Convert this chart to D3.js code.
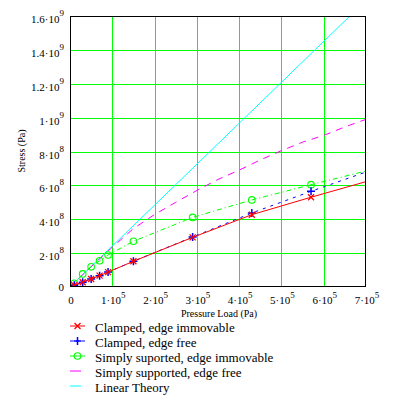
<!DOCTYPE html>
<html>
<head>
<meta charset="utf-8">
<script src="https://cdn.jsdelivr.net/npm/d3@7"></script>
<style>
  body { margin: 0; background: #fff; }
  text { font-family: "Liberation Serif", "DejaVu Serif", serif; fill: #000; }
</style>
</head>
<body>
<div id="chart"></div>
<script>
// pressure load (Pa) at which each trace was sampled
const loads = [0, 1e4, 3e4, 5e4, 7e4, 9e4, 1.5e5, 2.9e5, 4.3e5, 5.7e5, 7e5];
const clampedImmovable = [0, 1.0e7, 2.8e7, 4.7e7, 6.7e7, 8.8e7, 1.52e8, 2.93e8, 4.27e8, 5.30e8, 6.22e8];
const clampedFree = [0, 1.0e7, 2.8e7, 4.7e7, 6.7e7, 8.8e7, 1.52e8, 2.95e8, 4.37e8, 5.65e8, 6.79e8];
const simplyImmovable = [0, 2.2e7, 7.7e7, 1.19e8, 1.55e8, 1.89e8, 2.70e8, 4.11e8, 5.14e8, 6.04e8, 6.85e8];

// simply supported, edge free: smooth curve, no symbols
const freeLoads = [0, 0.5e5, 1e5, 1.5e5, 2e5, 2.5e5, 3e5, 3.5e5, 4e5, 4.5e5, 5e5, 5.5e5, 6e5, 6.5e5, 7e5];
const simplyFree = [0, 1.2e8, 2.35e8, 3.45e8, 4.28e8, 5.0e8, 5.7e8, 6.35e8, 6.9e8, 7.5e8, 8.05e8, 8.55e8, 8.95e8, 9.45e8, 9.9e8];

const linearLoads = [0, 7e5];
const linearTheory = [0, 1.692e9];

const xTicks = [0, 1e5, 2e5, 3e5, 4e5, 5e5, 6e5, 7e5];
const xTickBase = ["0", "1·10", "2·10", "3·10", "4·10", "5·10", "6·10", "7·10"];
const xTickExp = ["", "5", "5", "5", "5", "5", "5", "5"];
const yTicks = [0, 2e8, 4e8, 6e8, 8e8, 1e9, 1.2e9, 1.4e9, 1.6e9];
const yTickBase = ["0", "2·10", "4·10", "6·10", "8·10", "1·10", "1.2·10", "1.4·10", "1.6·10"];
const yTickExp = ["", "8", "8", "8", "8", "9", "9", "9", "9"];

const legendNames = ["Clamped, edge immovable", "Clamped, edge free", "Simply suported, edge immovable", "Simply supported, edge free", "Linear Theory"];

const W = 396, H = 401;
const svg = d3.select('#chart').append('svg').attr('width', W).attr('height', H);

const x = d3.scaleLinear().domain([0, 7e5]).range([70, 366]);
const y = d3.scaleLinear().domain([0, 1.6e9]).range([287, 16]);

svg.append('defs').append('clipPath').attr('id', 'plotclip')
    .append('rect').attr('x', 70).attr('y', 16).attr('width', 296).attr('height', 271);

// grid
const grid = svg.append('g').attr('shape-rendering', 'crispEdges');
grid.selectAll('.gx').data(xTicks.slice(1, -1)).enter().append('line')
    .attr('x1', d => Math.round(x(d)) + 0.5).attr('x2', d => Math.round(x(d)) + 0.5)
    .attr('y1', 16).attr('y2', 287)
    .attr('stroke', '#00ff00').attr('stroke-width', 1);
grid.selectAll('.gy').data(yTicks.slice(1, -1)).enter().append('line')
    .attr('y1', d => Math.round(y(d)) + 0.5).attr('y2', d => Math.round(y(d)) + 0.5)
    .attr('x1', 70).attr('x2', 366)
    .attr('stroke', '#00ff00').attr('stroke-width', 1);

const series = [
    {name: legendNames[0], xs: loads, ys: clampedImmovable, color: '#ff0000', dash: null, sym: 'x'},
    {name: legendNames[1], xs: loads, ys: clampedFree, color: '#0000ff', dash: '3,5', sym: '+'},
    {name: legendNames[2], xs: loads, ys: simplyImmovable, color: '#00ff00', dash: '5,3,1,3', sym: 'o'},
    {name: legendNames[3], xs: freeLoads, ys: simplyFree, color: '#ff00ff', dash: '7,6', sym: null},
    {name: legendNames[4], xs: linearLoads, ys: linearTheory, color: '#00ffff', dash: null, sym: null}
];

const plot = svg.append('g').attr('clip-path', 'url(#plotclip)');
const line = d3.line().x(d => x(d[0])).y(d => y(d[1]));

function drawSymbol(g, sym, cx, cy, color) {
    if (sym === 'x') {
        g.append('path').attr('d', `M${cx - 3},${cy - 3}L${cx + 3},${cy + 3}M${cx - 3},${cy + 3}L${cx + 3},${cy - 3}`)
            .attr('stroke', color).attr('stroke-width', 1.3).attr('fill', 'none');
    } else if (sym === '+') {
        g.append('path').attr('d', `M${cx - 4},${cy}L${cx + 4},${cy}M${cx},${cy - 4}L${cx},${cy + 4}`)
            .attr('stroke', color).attr('stroke-width', 1.5).attr('fill', 'none');
    } else if (sym === 'o') {
        g.append('circle').attr('cx', cx).attr('cy', cy).attr('r', 3.3)
            .attr('stroke', color).attr('stroke-width', 1.1).attr('fill', 'none');
    }
}

// draw back to front so the red trace ends on top
series.slice().reverse().forEach(s => {
    const pts = s.xs.map((v, i) => [v, s.ys[i]]);
    plot.append('path').datum(pts)
        .attr('fill', 'none').attr('stroke', s.color).attr('stroke-width', 1)
        .attr('stroke-dasharray', s.dash)
        .attr('d', line);
    if (s.sym) {
        const g = plot.append('g');
        pts.filter(d => d[0] > 0 && d[0] < 7e5)
            .forEach(d => drawSymbol(g, s.sym, x(d[0]), y(d[1]), s.color));
    }
});

// frame
svg.append('rect').attr('x', 70.5).attr('y', 16.5).attr('width', 295).attr('height', 270)
    .attr('fill', 'none').attr('stroke', '#000').attr('stroke-width', 1).attr('shape-rendering', 'crispEdges');

// x tick labels
xTicks.forEach((t, i) => {
    const tx = svg.append('text').attr('x', x(t) + 1).attr('y', 304)
        .attr('text-anchor', 'middle').attr('font-size', 11).text(xTickBase[i]);
    if (xTickExp[i]) tx.append('tspan').attr('dy', -6).attr('font-size', 9).text(xTickExp[i]);
});

// y tick labels
yTicks.forEach((t, i) => {
    const ty = svg.append('text').attr('x', 64).attr('y', y(t) + (yTickExp[i] ? 7 : 4))
        .attr('text-anchor', 'end').attr('font-size', 11).text(yTickBase[i]);
    if (yTickExp[i]) ty.append('tspan').attr('dy', -7).attr('font-size', 9).text(yTickExp[i]);
});

// axis titles
svg.append('text').attr('x', 219).attr('y', 317).attr('text-anchor', 'middle')
    .attr('font-size', 10).text('Pressure Load (Pa)');
svg.append('text').attr('transform', 'translate(25,151) rotate(-90)').attr('text-anchor', 'middle')
    .attr('font-size', 10).text('Stress (Pa)');

// legend
const legend = svg.append('g');
series.forEach((s, i) => {
    const ly = 326 + i * 15;
    const len = s.sym ? 15 : 11;
    legend.append('line').attr('x1', 70).attr('x2', 70 + len).attr('y1', ly).attr('y2', ly)
        .attr('stroke', s.color).attr('stroke-width', 1)
        .attr('stroke-dasharray', s.sym === '+' ? '3,3' : null);
    if (s.sym) drawSymbol(legend, s.sym, 77.5, ly, s.color);
    legend.append('text').attr('x', 95).attr('y', ly + 6).attr('font-size', 13).text(s.name);
});
</script>
</body>
</html>
